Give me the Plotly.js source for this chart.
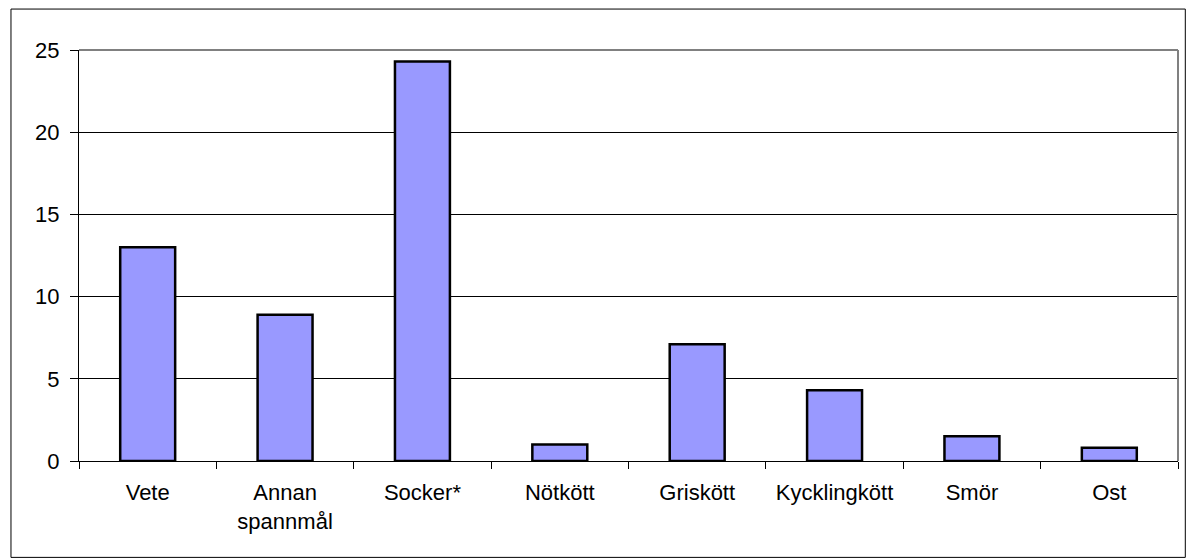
<!DOCTYPE html>
<html>
<head>
<meta charset="utf-8">
<script src="https://cdn.plot.ly/plotly-3.0.1.min.js"></script>
<style>
  html, body { margin: 0; padding: 0; background: #fff; }
  #chart { width: 1186px; height: 559px; }
</style>
</head>
<body>
<div id="chart"></div>
<script>
const categories = ["Vete", "Annan<br>spannmål", "Socker*", "Nötkött", "Griskött", "Kycklingkött", "Smör", "Ost"];
const values = [13.0, 8.9, 24.3, 1.0, 7.1, 4.3, 1.5, 0.8];
const yTickValues = [0, 5, 10, 15, 20, 25];

const FONT = "Liberation Sans, Arial, Helvetica, sans-serif";

const trace = {
  type: "bar",
  x: categories,
  y: values,
  width: 0.4,
  marker: { color: "#9999FF", line: { color: "#000000", width: 2.5 } },
  hoverinfo: "x+y"
};

const L = 79, R = 1177.7, T = 50, B = 461.5, W = 1186, H = 559;
const pw = R - L, ph = B - T;

const layout = {
  width: W, height: H,
  margin: { l: L, r: W - R, t: T, b: H - B, pad: 0 },
  paper_bgcolor: "#ffffff",
  plot_bgcolor: "#ffffff",
  showlegend: false,
  font: { family: FONT, size: 22, color: "#000000" },
  bargap: 0.6,
  xaxis: {
    type: "category",
    tickson: "boundaries",
    ticks: "outside", ticklen: 7, tickwidth: 1, tickcolor: "#000000",
    showline: true, linecolor: "#000000", linewidth: 1,
    showgrid: false, zeroline: false,
    ticklabelstandoff: 12,
    tickfont: { family: FONT, size: 22, color: "#000000" },
    fixedrange: true
  },
  yaxis: {
    range: [0, 25],
    tickvals: yTickValues,
    ticktext: yTickValues.map(String),
    ticks: "outside", ticklen: 8, tickwidth: 1, tickcolor: "#000000",
    showline: true, linecolor: "#000000", linewidth: 1,
    showgrid: true, gridcolor: "#000000", gridwidth: 1,
    zeroline: false,
    ticklabelstandoff: 6,
    tickfont: { family: FONT, size: 22, color: "#000000" },
    fixedrange: true
  },
  shapes: [
    { type: "line", xref: "paper", yref: "paper", x0: 0, x1: 1, y0: 1, y1: 1,
      line: { color: "#808080", width: 2 }, layer: "above" },
    { type: "line", xref: "paper", yref: "paper", x0: 1, x1: 1, y0: 0, y1: 1,
      line: { color: "#808080", width: 2 }, layer: "above" },
    { type: "rect", xref: "paper", yref: "paper",
      x0: (11 - L) / pw, x1: (1185 - L) / pw,
      y0: (B - 558) / ph, y1: (B - 9) / ph,
      line: { color: "#000000", width: 1 }, fillcolor: "rgba(0,0,0,0)", layer: "above" }
  ]
};

Plotly.newPlot("chart", [trace], layout, { displayModeBar: false, staticPlot: true });
</script>
</body>
</html>
